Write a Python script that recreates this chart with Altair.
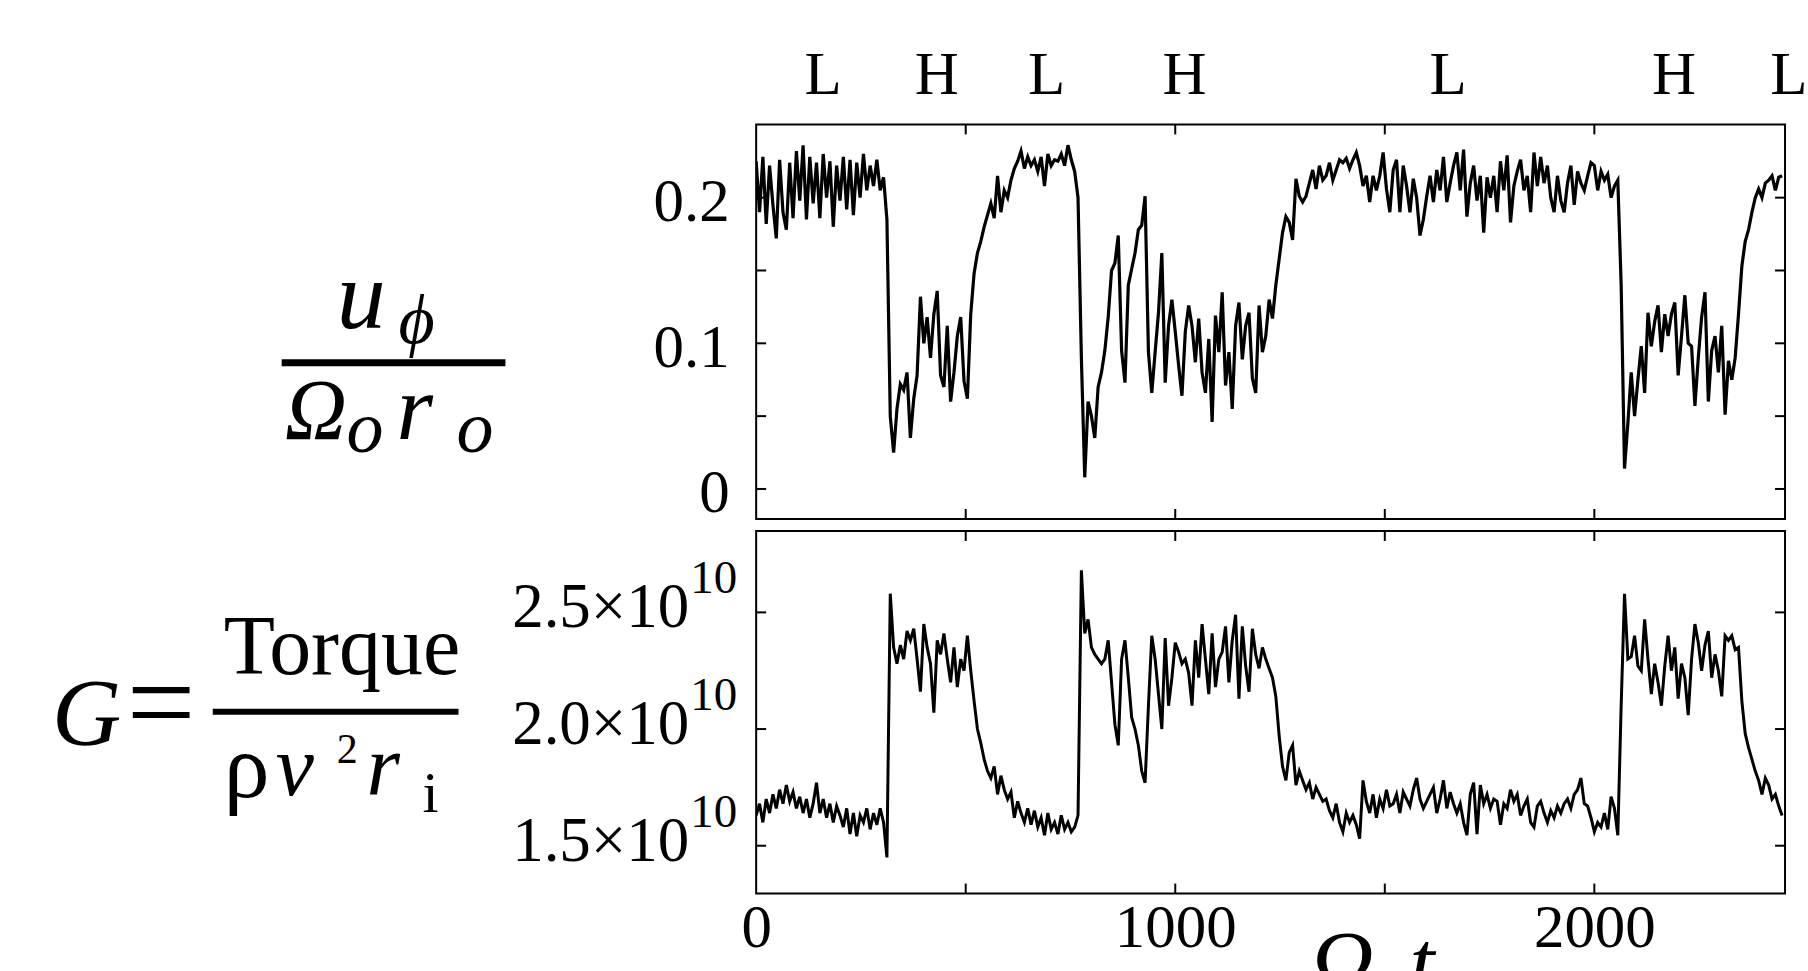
import altair as alt
import pandas as pd

# ---------------- data ----------------
t_step = 8  # sampling interval of the time series (Omega_o t units)

u_phi = [
    0.225, 0.19, 0.228, 0.182, 0.222, 0.195, 0.172, 0.226, 0.19, 0.178,
    0.224, 0.186, 0.232, 0.198, 0.236, 0.185, 0.228, 0.196, 0.224, 0.186,
    0.23, 0.2, 0.225, 0.18, 0.222, 0.198, 0.228, 0.192, 0.226, 0.188,
    0.224, 0.2, 0.23, 0.205, 0.222, 0.208, 0.226, 0.205, 0.214, 0.185,
    0.05, 0.025, 0.055, 0.072, 0.068, 0.08, 0.035, 0.062, 0.078, 0.132,
    0.1, 0.118, 0.09, 0.12, 0.136, 0.078, 0.07, 0.112, 0.06, 0.08,
    0.105, 0.118, 0.074, 0.062, 0.12, 0.148, 0.162, 0.17, 0.18, 0.188,
    0.196, 0.186, 0.215, 0.19, 0.205, 0.2, 0.212, 0.22, 0.225, 0.232,
    0.22, 0.228, 0.222, 0.226, 0.218, 0.228, 0.208, 0.23, 0.222, 0.226,
    0.225, 0.23, 0.222, 0.236, 0.226, 0.218, 0.2, 0.09, 0.008, 0.06,
    0.05, 0.035, 0.07, 0.08, 0.095, 0.118, 0.15, 0.155, 0.174, 0.095,
    0.073, 0.14, 0.151, 0.162, 0.178, 0.181, 0.201, 0.094, 0.066, 0.094,
    0.121, 0.162, 0.073, 0.112, 0.13, 0.108, 0.085, 0.064, 0.108, 0.126,
    0.112, 0.087, 0.117, 0.08, 0.066, 0.103, 0.046, 0.119, 0.094, 0.135,
    0.071, 0.094, 0.055, 0.112, 0.128, 0.089, 0.112, 0.121, 0.076, 0.066,
    0.126, 0.094, 0.105, 0.13, 0.117, 0.14, 0.158, 0.176, 0.187, 0.183,
    0.171, 0.213, 0.201, 0.197, 0.201, 0.21, 0.219, 0.206, 0.222, 0.212,
    0.215, 0.224, 0.212, 0.219, 0.226, 0.224, 0.227, 0.22, 0.226, 0.231,
    0.222, 0.208, 0.215, 0.197, 0.215, 0.205, 0.215, 0.231, 0.206, 0.19,
    0.219, 0.226, 0.19, 0.222, 0.208, 0.19, 0.213, 0.2, 0.174, 0.185,
    0.201, 0.215, 0.197, 0.219, 0.205, 0.228, 0.197, 0.21, 0.222, 0.231,
    0.205, 0.233, 0.187, 0.21, 0.222, 0.198, 0.215, 0.176, 0.214, 0.2,
    0.215, 0.19, 0.225, 0.205, 0.229, 0.183, 0.208, 0.218, 0.226, 0.205,
    0.215, 0.19, 0.231, 0.208, 0.228, 0.21, 0.222, 0.2, 0.19, 0.215,
    0.198, 0.19, 0.21, 0.222, 0.195, 0.218, 0.21, 0.205, 0.215, 0.224,
    0.222, 0.205, 0.218, 0.212, 0.216, 0.2, 0.208, 0.212, 0.14, 0.014,
    0.045, 0.08, 0.05, 0.075, 0.098, 0.066, 0.121, 0.098, 0.115, 0.126,
    0.094, 0.12, 0.105, 0.12, 0.128, 0.078, 0.105, 0.133, 0.1, 0.098,
    0.057, 0.09, 0.118, 0.135, 0.06, 0.095, 0.105, 0.08, 0.112, 0.051,
    0.088, 0.075, 0.09, 0.12, 0.153, 0.17, 0.178, 0.19, 0.2, 0.206,
    0.2, 0.21, 0.212, 0.215, 0.205, 0.214, 0.215,
]

# G in units of 10^10
G_e10 = [
    1.63, 1.68, 1.6, 1.7, 1.64, 1.72, 1.66, 1.74, 1.68, 1.76,
    1.69, 1.73, 1.66, 1.71, 1.64, 1.7, 1.62, 1.68, 1.77, 1.64,
    1.7, 1.62, 1.68, 1.6, 1.67, 1.63, 1.58, 1.66, 1.55, 1.64,
    1.54, 1.63, 1.6, 1.66, 1.57, 1.64, 1.59, 1.66, 1.6, 1.45,
    2.58, 2.35, 2.28, 2.36, 2.3, 2.42, 2.38, 2.43, 2.3, 2.16,
    2.45, 2.35, 2.28, 2.07, 2.38, 2.32, 2.41, 2.3, 2.2, 2.35,
    2.18, 2.3, 2.25, 2.4, 2.25, 2.12, 2.0, 1.94, 1.87, 1.82,
    1.79, 1.84, 1.72, 1.8, 1.74, 1.7, 1.73, 1.62, 1.69, 1.64,
    1.6, 1.66, 1.59, 1.65, 1.58, 1.62, 1.545, 1.64, 1.57, 1.6,
    1.55, 1.63, 1.57, 1.6, 1.56, 1.58, 1.63, 2.68, 2.41, 2.47,
    2.35, 2.32, 2.3, 2.28, 2.3, 2.38, 2.2, 2.02, 1.93, 2.3,
    2.38, 2.22, 2.05, 2.0, 1.93, 1.82, 1.77, 2.1, 2.4, 2.3,
    2.15, 2.0, 2.39, 2.1, 2.22, 2.37, 2.33, 2.28, 2.3, 2.24,
    2.1, 2.38, 2.22, 2.45, 2.3, 2.15, 2.41, 2.18, 2.3, 2.33,
    2.44, 2.2, 2.38, 2.49, 2.13, 2.44, 2.27, 2.16, 2.43, 2.32,
    2.26, 2.35, 2.3, 2.26, 2.22, 2.14, 1.97, 1.84, 1.78, 1.9,
    1.93, 1.76, 1.82, 1.78, 1.74, 1.77, 1.7, 1.75, 1.72, 1.69,
    1.7, 1.65, 1.62, 1.68, 1.6, 1.56, 1.64, 1.6, 1.63, 1.59,
    1.53, 1.78, 1.69, 1.64, 1.72, 1.62, 1.7, 1.66, 1.74, 1.67,
    1.68, 1.72, 1.64, 1.73, 1.7, 1.67, 1.74, 1.79, 1.7, 1.66,
    1.69, 1.72, 1.75, 1.64, 1.7, 1.78, 1.66, 1.73, 1.68, 1.64,
    1.68, 1.6, 1.545, 1.72, 1.77, 1.55, 1.76, 1.68, 1.72, 1.66,
    1.7, 1.69, 1.59, 1.68, 1.66, 1.74, 1.69, 1.72, 1.63, 1.67,
    1.7, 1.6, 1.58, 1.67, 1.69, 1.64, 1.6, 1.65, 1.62, 1.67,
    1.64, 1.68, 1.7, 1.66, 1.72, 1.74, 1.79, 1.68, 1.67, 1.62,
    1.56, 1.6, 1.58, 1.64, 1.57, 1.71, 1.66, 1.545, 2.1, 2.58,
    2.3, 2.31, 2.4, 2.27, 2.25, 2.47, 2.3, 2.15, 2.28, 2.2,
    2.1, 2.27, 2.4, 2.25, 2.35, 2.13, 2.28, 2.22, 2.06, 2.3,
    2.45, 2.37, 2.25, 2.36, 2.42, 2.22, 2.32, 2.25, 2.14, 2.4,
    2.38, 2.4, 2.34, 2.35, 2.12, 1.98, 1.92, 1.87, 1.82, 1.78,
    1.72, 1.79, 1.76, 1.7, 1.72, 1.67, 1.63,
]

regime_labels = ["L", "H", "L", "H", "L", "H", "L"]
regime_t = [160, 431, 693, 1022, 1651, 2190, 2464]

u_tick_values = [0, 0.05, 0.1, 0.15, 0.2]
u_label_values = [0, 0.1, 0.2]
g_tick_values = [1.5, 2.0, 2.5]
g_tick_base = ["1.5×10", "2.0×10", "2.5×10"]
g_tick_exp = ["10", "10", "10"]
t_tick_values = [500, 1000, 1500, 2000]
t_label_values = [0, 1000, 2000]

# ---------------- layout constants ----------------
FONT = "Liberation Serif"
W = 1030
HB = 395
HC = 363
XMAX = 2455
WA = 1052
PX_PER_T = W / XMAX

u_df = pd.DataFrame({"t": [t_step * i for i in range(len(u_phi))], "u": u_phi})
g_df = pd.DataFrame({"t": [t_step * i for i in range(len(G_e10))], "g": G_e10})

xs = alt.Scale(domain=[0, XMAX], nice=False, zero=False)
us = alt.Scale(domain=[-0.0206, 0.2503], nice=False, zero=False)
gs = alt.Scale(domain=[1.295, 2.849], nice=False, zero=False)


def txt(s, x, y, size, style="normal", align="left", clip=False):
    return alt.Chart(pd.DataFrame({"s": [s]})).mark_text(
        font=FONT, fontSize=size, fontStyle=style, align=align,
        baseline="alphabetic", color="black", clip=clip,
    ).encode(x=alt.value(x), y=alt.value(y), text="s:N")


def bar(x1, x2, y1, y2):
    return alt.Chart(pd.DataFrame({"s": [0]})).mark_rect(color="black").encode(
        x=alt.value(x1), x2=alt.value(x2), y=alt.value(y1), y2=alt.value(y2)
    )


tick_style = dict(color="black", strokeWidth=2)

# ---------------- panel A : regime letters ----------------
xa = alt.Scale(domain=[0, WA / PX_PER_T], nice=False, zero=False)
letters = alt.Chart(pd.DataFrame({"t": regime_t, "lab": regime_labels})).mark_text(
    font=FONT, fontSize=61, baseline="alphabetic", align="center", color="black", clip=True
).encode(x=alt.X("t:Q", scale=xa, axis=None), y=alt.value(93), text="lab:N")
anchor = alt.Chart(pd.DataFrame({"s": [0]})).mark_rule(strokeWidth=1, opacity=0).encode(
    x=alt.value(-756), x2=alt.value(-740), y=alt.value(20)
)
panelA = alt.layer(anchor, letters).properties(
    width=WA, height=111, view=alt.ViewBackground(stroke="transparent")
)

# ---------------- panel B : u_phi ----------------
XB = alt.X("t:Q", scale=xs, axis=None)
YB = alt.Y(
    "u:Q", scale=us,
    axis=alt.Axis(values=u_label_values, format="~g", ticks=False, tickSize=0, domain=False,
                  grid=False, labelFont=FONT, labelFontSize=61, labelColor="black",
                  labelPadding=27, labelOffset=5, labelFlush=False, labelOverlap=False, title=""),
)
lineB = alt.Chart(u_df).mark_line(color="black", strokeWidth=3.2, clip=True).encode(x=XB, y=YB)
ut_df = pd.DataFrame({"u": u_tick_values})
tt_df = pd.DataFrame({"t": t_tick_values})
ytl_B = alt.Chart(ut_df).mark_rule(**tick_style).encode(y=YB, x=alt.value(0), x2=alt.value(10))
ytr_B = alt.Chart(ut_df).mark_rule(**tick_style).encode(y=YB, x=alt.value(W - 10), x2=alt.value(W))
xtt_B = alt.Chart(tt_df).mark_rule(**tick_style).encode(x=XB, y=alt.value(0), y2=alt.value(10))
xtb_B = alt.Chart(tt_df).mark_rule(**tick_style).encode(x=XB, y=alt.value(HB - 10), y2=alt.value(HB))

titleB = [
    txt("u", -420, 204, 98, "italic"),
    txt("ϕ", -358, 219, 70, "italic"),
    bar(-475, -251, 235, 242),
    txt("Ω", -472, 315, 86, "italic"),
    txt("o", -410, 328, 74, "italic"),
    txt("r", -360, 315, 94, "italic"),
    txt("o", -300, 328, 74, "italic"),
]
panelB = alt.layer(lineB, ytl_B, ytr_B, xtt_B, xtb_B, *titleB).properties(width=W, height=HB)

# ---------------- panel C : G ----------------
XC = alt.X(
    "t:Q", scale=xs,
    axis=alt.Axis(values=t_label_values, format="d", ticks=False, tickSize=0, domain=False,
                  grid=False, labelFont=FONT, labelFontSize=61, labelColor="black",
                  labelPadding=5, labelFlush=False, labelOverlap=False, title=""),
)
YC = alt.Y("g:Q", scale=gs, axis=None)
lineC = alt.Chart(g_df).mark_line(color="black", strokeWidth=3.0, clip=True).encode(x=XC, y=YC)
gt_df = pd.DataFrame({"g": g_tick_values, "base": g_tick_base, "exp": g_tick_exp})
ytl_C = alt.Chart(gt_df).mark_rule(**tick_style).encode(y=YC, x=alt.value(0), x2=alt.value(10))
ytr_C = alt.Chart(gt_df).mark_rule(**tick_style).encode(y=YC, x=alt.value(W - 10), x2=alt.value(W))
xtt_C = alt.Chart(tt_df).mark_rule(**tick_style).encode(x=XC, y=alt.value(0), y2=alt.value(10))
xtb_C = alt.Chart(tt_df).mark_rule(**tick_style).encode(x=XC, y=alt.value(HC - 10), y2=alt.value(HC))
lab_base = alt.Chart(gt_df).mark_text(
    font=FONT, fontSize=63, align="right", baseline="alphabetic", dy=15, color="black"
).encode(y=YC, x=alt.value(-67), text="base:N")
lab_exp = alt.Chart(gt_df).mark_text(
    font=FONT, fontSize=47, align="left", baseline="alphabetic", dy=-19, color="black"
).encode(y=YC, x=alt.value(-66), text="exp:N")

titleC = [
    txt("G", -705, 214, 96, "italic"),
    txt("=", -630, 212, 122),
    bar(-544, -298, 178, 184),
    txt("Torque", -533, 143, 84),
    txt("ρ", -533, 266, 92),
    txt("ν", -481, 264, 86, "italic"),
    txt("2", -420, 232, 42),
    txt("r", -390, 264, 86, "italic"),
    txt("i", -334, 281, 58),
]
panelC = alt.layer(lineC, ytl_C, ytr_C, xtt_C, xtb_C, lab_base, lab_exp, *titleC).properties(
    width=W, height=HC
)

# ---------------- panel D : cut-off x title ----------------
panelD = alt.layer(
    txt("Ω", 554, 87, 90, "italic", clip=True),
    txt("o", 620, 100, 66, "italic", clip=True),
    txt("t", 654, 87, 90, "italic", clip=True),
).properties(width=W, height=66, view=alt.ViewBackground(stroke="transparent"))

chart = alt.vconcat(panelA, panelB, panelC, panelD, spacing=12, bounds="flush").properties(
    padding=0
).configure_view(stroke="black", strokeWidth=2)

chart.save("out.html", embed_options={"renderer": "svg", "actions": False})
